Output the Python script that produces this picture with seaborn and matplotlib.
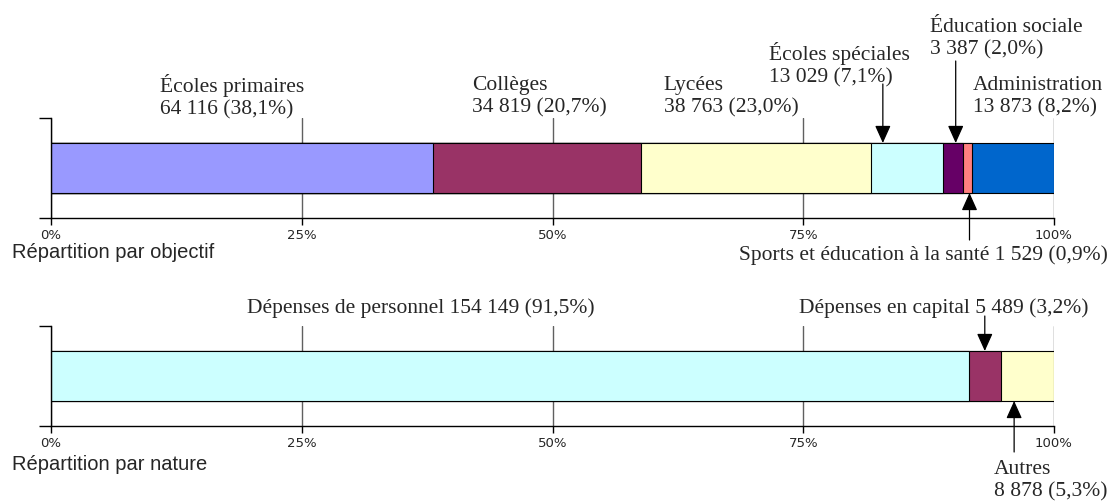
import numpy as np
import pandas as pd
import matplotlib
matplotlib.use("Agg")
import matplotlib.pyplot as plt
import seaborn as sns

# budget split by objective (top) and by nature (bottom)
names_obj = ["Écoles primaires", "Collèges", "Lycées", "Écoles spéciales",
             "Éducation sociale", "Sports et éducation à la santé", "Administration"]
amounts_obj = ["64 116", "34 819", "38 763", "13 029", "3 387", "1 529", "13 873"]
pct_obj = [38.1, 20.7, 23.0, 7.1, 2.0, 0.9, 8.2]
colors_obj = ["#9999ff", "#993366", "#ffffcc", "#ccffff", "#660066", "#ff8080", "#0066cc"]

names_nat = ["Dépenses de personnel", "Dépenses en capital", "Autres"]
amounts_nat = ["154 149", "5 489", "8 878"]
pct_nat = [91.5, 3.2, 5.3]
colors_nat = ["#ccffff", "#993366", "#ffffcc"]

ticks = [0, 25, 50, 75, 100]
tick_labels = ["0%", "25%", "50%", "75%", "100%"]

# label placement: (x in %, y in axes fraction, ha, two lines?)
layout_obj = [(10.87, 1.22, "left", True), (42.0, 1.22, "left", True),
              (61.1, 1.22, "left", True), (71.6, 1.54, "left", True),
              (87.6, 1.80, "left", True), (105.4, -0.36, "right", False),
              (91.9, 1.22, "left", True)]
layout_nat = [(19.5, 1.19, "left", False), (103.4, 1.19, "right", False),
              (94.0, -0.535, "left", True)]
# arrows: segment index -> (position inside segment, y start)
arrows_obj = {3: (0.16, 1.34), 4: (0.65, 1.57), 5: (0.75, -0.22)}
arrows_nat = {1: (0.5, 1.10), 2: (0.25, -0.26)}

sns.set_style("white")
plt.rcParams["font.family"] = ["Liberation Serif", "DejaVu Serif"]

fig = plt.figure(figsize=(11.12, 5.02), dpi=100)
ax_top = fig.add_axes([51 / 1112, 283 / 502, 1003 / 1112, 100 / 502])
ax_bot = fig.add_axes([51 / 1112, 75 / 502, 1003 / 1112, 100 / 502])


def fmt_pct(p):
    return f"{p:.1f}".replace(".", ",") + "%"


def draw_row(ax, names, amounts, pcts, colors, layout, arrows, row):
    df = pd.DataFrame({"cat": names, "cum": np.cumsum(pcts), "row": row})
    # largest cumulative first, smaller ones painted over it
    sns.barplot(data=df, x="cum", y="row", hue="cat", hue_order=names[::-1],
                palette=dict(zip(names, colors)), dodge=False, width=0.5,
                saturation=1, edgecolor="black", linewidth=0.8, errorbar=None,
                legend=False, ax=ax)
    ax.set_xlim(0, 100)
    ax.set_ylim(0.5, -0.5)
    ax.set_xticks(ticks)
    ax.set_xticklabels(tick_labels, family="DejaVu Sans", fontsize=9.5)
    ax.set_yticks([-0.5, 0.5])
    ax.set_yticklabels([])
    ax.set_xlabel("")
    ax.set_ylabel("")
    ax.tick_params(axis="x", direction="out", length=5, width=1, pad=2,
                   color="black", bottom=True)
    ax.tick_params(axis="y", direction="out", length=9, width=1,
                   color="black", left=True)
    ax.grid(axis="x", color="#606060", linewidth=1)
    ax.grid(axis="y", visible=False)
    ax.set_axisbelow(True)
    for side in ["top", "right"]:
        ax.spines[side].set_visible(False)
    for side in ["left", "bottom"]:
        ax.spines[side].set_color("black")
        ax.spines[side].set_linewidth(1)

    tr = ax.get_xaxis_transform()
    starts = np.concatenate([[0], np.cumsum(pcts)[:-1]])
    for i, (name, amt, p) in enumerate(zip(names, amounts, pcts)):
        x, y, ha, two = layout[i]
        sep = "\n" if two else " "
        ax.text(x, y, f"{name}{sep}{amt} ({fmt_pct(p)})", transform=tr,
                ha=ha, va="center", fontsize=15.5, linespacing=1.25,
                clip_on=False)
        if i in arrows:
            frac, y0 = arrows[i]
            xa = starts[i] + frac * p
            y1 = 0.75 if y0 > 0.5 else 0.25
            ax.annotate("", xy=(xa, y1), xytext=(xa, y0), xycoords=tr,
                        textcoords=tr, annotation_clip=False,
                        arrowprops=dict(arrowstyle="-|>,head_length=0.4,head_width=0.18",
                                        mutation_scale=27, color="black",
                                        linewidth=0.9, shrinkA=0, shrinkB=0))


draw_row(ax_top, names_obj, amounts_obj, pct_obj, colors_obj, layout_obj, arrows_obj, "objectif")
draw_row(ax_bot, names_nat, amounts_nat, pct_nat, colors_nat, layout_nat, arrows_nat, "nature")

fig.text(12 / 1112, 1 - 252 / 502, "Répartition par objectif", family="Liberation Sans",
         fontsize=14.5, va="center", ha="left")
fig.text(12 / 1112, 1 - 465 / 502, "Répartition par nature", family="Liberation Sans",
         fontsize=14.5, va="center", ha="left")

fig.savefig("out.png", dpi=100, facecolor="white")
